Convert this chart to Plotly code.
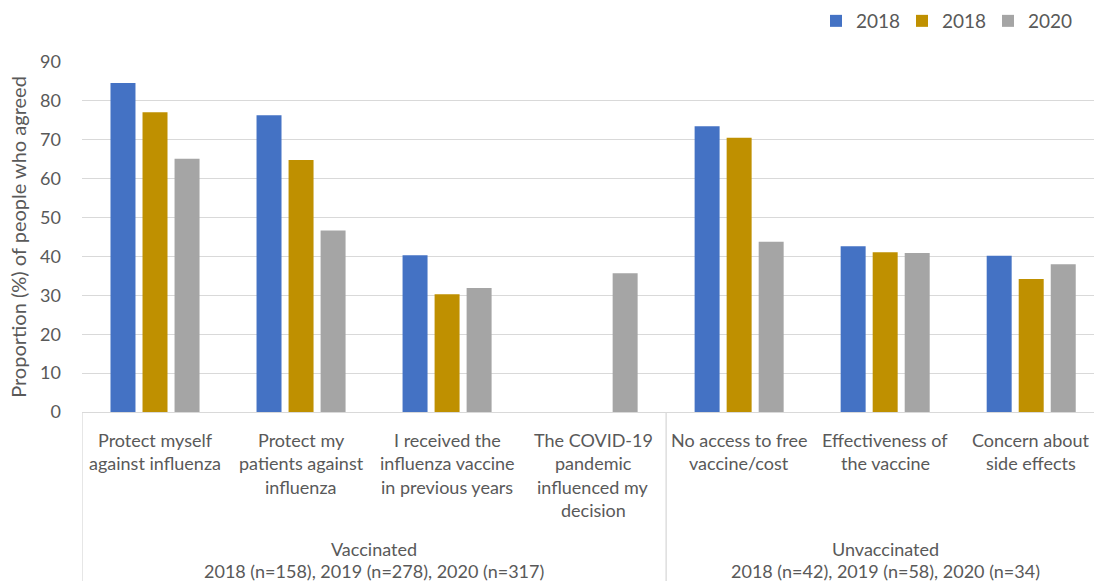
import plotly.graph_objects as go

categories = [
    "Protect myself<br>against influenza",
    "Protect my<br>patients against<br>influenza",
    "I received the<br>influenza vaccine<br>in previous years",
    "The COVID-19<br>pandemic<br>influenced my<br>decision",
    "No access to free<br>vaccine/cost",
    "Effectiveness of<br>the vaccine",
    "Concern about<br>side effects",
]
series_names = ["2018", "2018", "2020"]
values_a = [84.6, 76.3, 40.3, None, 73.5, 42.6, 40.2]
values_b = [77.1, 64.8, 30.3, None, 70.5, 41.1, 34.2]
values_c = [65.1, 46.7, 31.9, 35.7, 43.8, 40.9, 38.0]
groups = ["Vaccinated", "Unvaccinated"]
group_notes = ["2018 (n=158), 2019 (n=278), 2020 (n=317)",
               "2018 (n=42), 2019 (n=58), 2020 (n=34)"]
group_sizes = [4, 3]
y_ticks = [0, 10, 20, 30, 40, 50, 60, 70, 80, 90]
y_title = "Proportion (%) of people who agreed"

colors = ["#4472C4", "#BF9000", "#A5A5A5"]
FONT = "Lato"
TXT = "#595959"
GRID = "#D9D9D9"

W, H = 1094, 581
L, R, T, B = 82, 0, 62, 169
PH = H - T - B

def py(px):
    return (H - B - px) / PH

fig = go.Figure()
for name, vals, col in zip(series_names, [values_a, values_b, values_c], colors):
    fig.add_trace(go.Bar(x=categories, y=vals, name=name, marker_color=col,
                         marker_line_width=0))

ann = []
line_gap = 23.6
for cat in categories:
    for i, line in enumerate(cat.split("<br>")):
        ann.append(dict(x=cat, y=py(439.5 + i * line_gap), xref="x", yref="paper",
                        text=line, showarrow=False, xanchor="center", yanchor="middle",
                        font=dict(family=FONT, size=18, color=TXT)))

start = -0.5
for g, note, n in zip(groups, group_notes, group_sizes):
    cx = start + n / 2
    ann.append(dict(x=cx, y=py(549), xref="x", yref="paper", text=g, showarrow=False,
                    xanchor="center", yanchor="middle",
                    font=dict(family=FONT, size=18, color=TXT)))
    ann.append(dict(x=cx, y=py(571), xref="x", yref="paper", text=note, showarrow=False,
                    xanchor="center", yanchor="middle",
                    font=dict(family=FONT, size=18, color=TXT)))
    start += n

shapes = []
sep = -0.5
for n in [0] + group_sizes[:-1]:
    sep += n
    shapes.append(dict(type="line", xref="x", yref="paper", x0=sep, x1=sep,
                       y0=0, y1=py(H), line=dict(color=GRID, width=1.3)))

fig.update_layout(
    width=W, height=H,
    margin=dict(l=L, r=R, t=T, b=B, autoexpand=False),
    paper_bgcolor="white", plot_bgcolor="white",
    barmode="group", bargap=0.342, bargroupgap=0.22,
    font=dict(family=FONT, color=TXT),
    legend=dict(orientation="h", x=(816 - L) / (W - L - R), xanchor="left",
                y=py(21), yanchor="middle", font=dict(family=FONT, size=19, color=TXT),
                traceorder="normal", itemwidth=30, entrywidth=41, entrywidthmode="pixels"),
    annotations=ann,
    shapes=shapes,
    showlegend=True,
)
fig.update_xaxes(range=[-0.5, 6.43], showticklabels=False, showgrid=False, automargin=False,
                 showline=True, linecolor=GRID, linewidth=1.3, ticks="", zeroline=False)
fig.update_yaxes(range=[0, 90], tickvals=y_ticks, showgrid=True, gridcolor=GRID,
                 gridwidth=1.3, zeroline=False, showline=False, automargin=False,
                 tickfont=dict(family=FONT, size=18, color=TXT), ticklabelstandoff=20,
                 title=dict(text=y_title, font=dict(family=FONT, size=20, color=TXT),
                            standoff=8))

fig.write_html("out.html", config={"displayModeBar": False},
               post_script="document.body.style.margin='0';document.body.style.overflow='hidden';")
